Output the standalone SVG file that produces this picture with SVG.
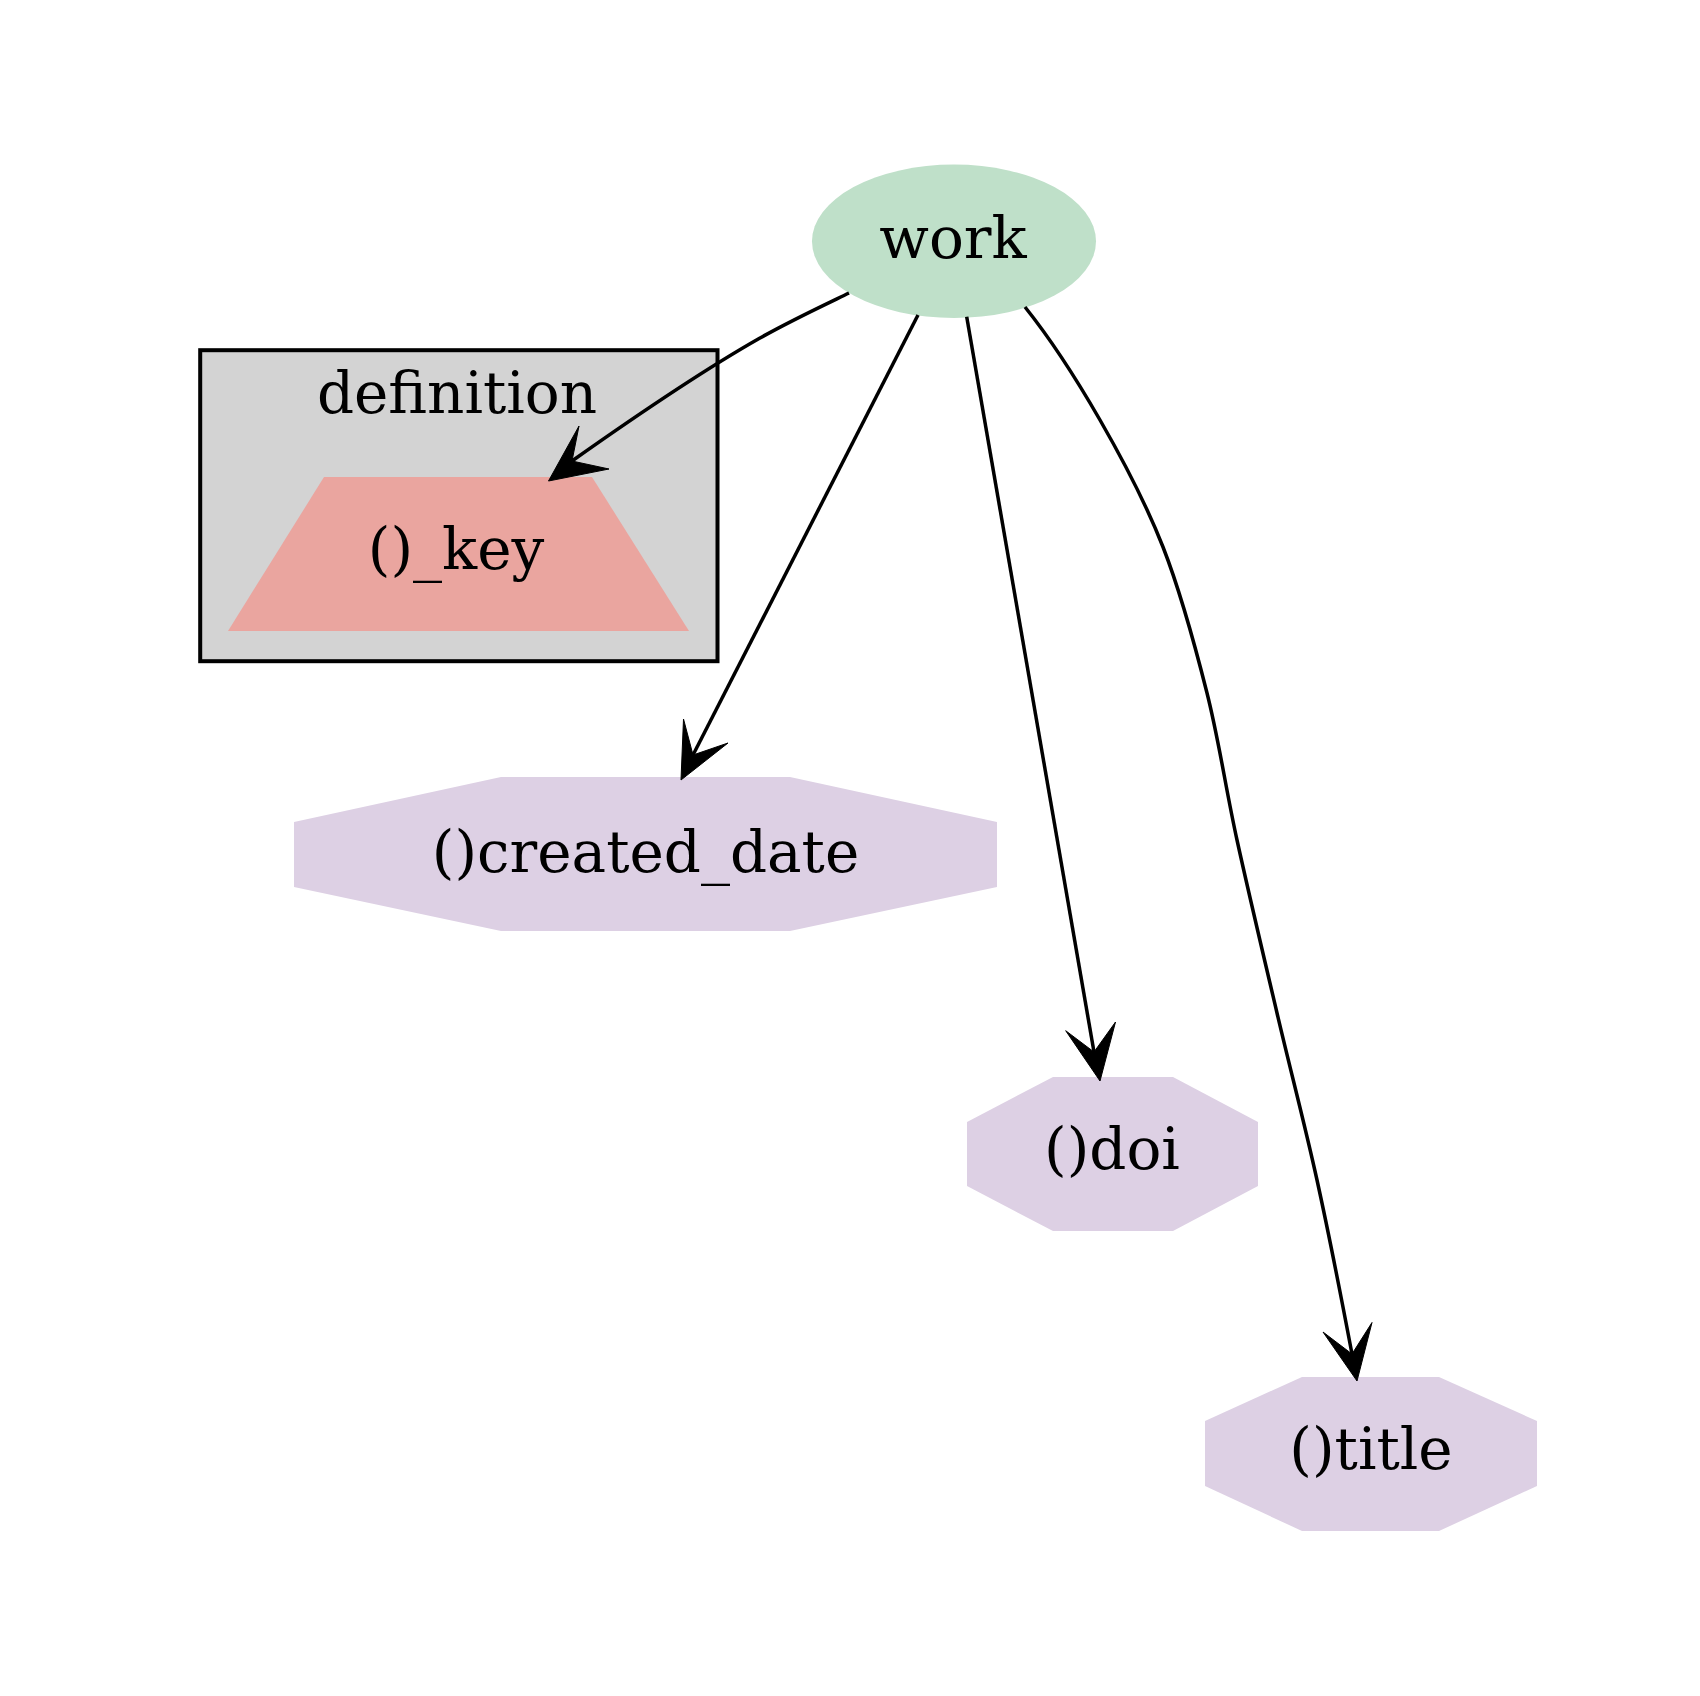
<svg xmlns="http://www.w3.org/2000/svg" width="1700" height="1696" viewBox="0 0 1700 1696">
<style>
text{font-family:"DejaVu Serif","Liberation Serif",serif;font-size:58px;fill:#000;text-anchor:middle}
.edge{fill:none;stroke:#000;stroke-width:3.5}
.head{fill:#000;stroke:#000;stroke-width:1}
.attr{fill:#ddd0e4;stroke:none}
</style>
<rect width="1700" height="1696" fill="#fff"/>
<g id="cluster_definition">
<rect x="200.2" y="350.2" width="517.3" height="311" fill="#d3d3d3" stroke="#000" stroke-width="4"/>
<text x="457" y="413">definition</text>
</g>
<g id="node_key">
<polygon points="324,477 592,477 689,631 228,631" fill="#eaa59f"/>
<text x="456" y="569">()_key</text>
</g>
<g id="node_work">
<ellipse cx="954" cy="241.3" rx="142" ry="76.7" fill="#bfe0c9"/>
<text x="953" y="258">work</text>
</g>
<g id="node_created_date">
<polygon class="attr" points="501,777 790,777 997,822 997,887 790,931 501,931 294,887 294,822"/>
<text x="645.5" y="872">()created_date</text>
</g>
<g id="node_doi">
<polygon class="attr" points="1053,1077 1173,1077 1258,1122 1258,1186 1173,1231 1053,1231 967,1186 967,1122"/>
<text x="1112" y="1169">()doi</text>
</g>
<g id="node_title">
<polygon class="attr" points="1302,1377 1439,1377 1537,1421 1537,1486 1439,1531 1302,1531 1205,1486 1205,1421"/>
<text x="1371" y="1469">()title</text>
</g>
<g id="edges">
<path class="edge" d="M849,293 C820,307 790,321 760,338 C700,372 630,420 572,461"/>
<polygon class="head" points="548.5,481 579,426 572,461 609,469"/>
<path class="edge" d="M918,315 L693,755"/>
<polygon class="head" points="681,780 683.5,719 693,755 728,743"/>
<path class="edge" d="M966.7,316.7 L1094,1052"/>
<polygon class="head" points="1100,1081 1065.7,1030.7 1094,1052 1115.5,1022"/>
<path class="edge" d="M1025,307 C1053,342 1077,380 1100,420 C1123,460 1145.2,501.5 1163,547 C1180.8,592.5 1194.7,644.2 1207,693 C1219.3,741.8 1225.3,786.7 1237,840 C1248.7,893.3 1263.7,956.3 1277,1013 C1290.3,1069.7 1304.5,1123.2 1317,1180 C1329.5,1236.8 1341,1296 1352,1354"/>
<polygon class="head" points="1357,1381 1323,1332 1352,1354 1372,1322.5"/>
</g>
</svg>
